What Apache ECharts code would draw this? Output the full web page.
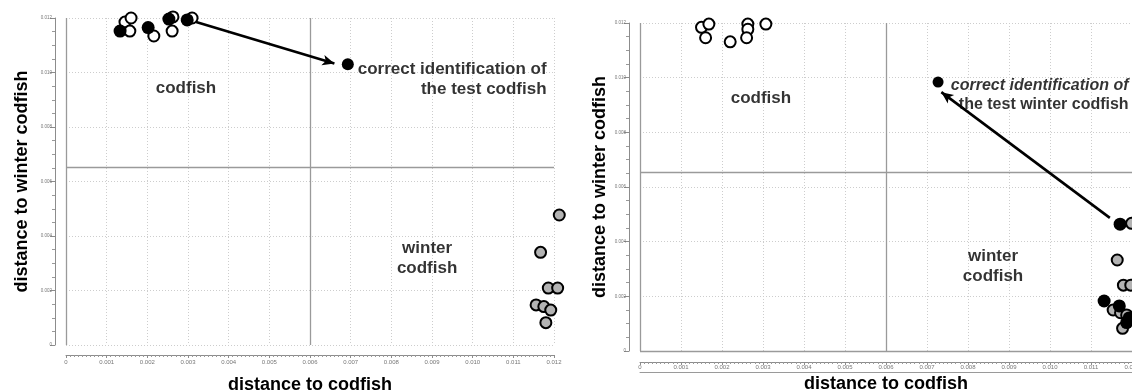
<!DOCTYPE html>
<html><head><meta charset="utf-8">
<script src="https://cdn.jsdelivr.net/npm/echarts@6/dist/echarts.min.js"></script>
<style>html,body{margin:0;padding:0;background:#fff}#c{width:1132px;height:392px}</style>
</head><body><div id="c"></div>
<script>
const xTitle = 'distance to codfish';
const yTitle = 'distance to winter codfish';
const axisMin = 0, axisMax = 0.012;
const dividerX = 0.006, dividerY = 0.00654;

// left panel: identification of a test codfish
const leftOpen = [[0.00145,0.01185],[0.00160,0.01200],[0.00157,0.01152],[0.00216,0.01134],[0.00263,0.01204],[0.00261,0.01152],[0.00310,0.01200]];
const leftBlack = [[0.00133,0.01152],[0.00202,0.01165],[0.00253,0.01196],[0.00298,0.01193]];
const leftGray = [[0.01213,0.00477],[0.01167,0.00340],[0.01186,0.00209],[0.01209,0.00209],[0.01156,0.00147],[0.01175,0.00141],[0.01192,0.00128],[0.01180,0.00082]];
const leftTest = [[0.00693,0.01030]];
const leftArrow = [[0.00320,0.01185],[0.00660,0.01033]];

// right panel: identification of a test winter codfish
const rightOpen = [[0.00150,0.01184],[0.00168,0.01196],[0.00160,0.01146],[0.00220,0.01131],[0.00263,0.01196],[0.00263,0.01177],[0.00260,0.01146],[0.00307,0.01196]];
const rightGray = [[0.01199,0.00467],[0.01164,0.00333],[0.01179,0.00241],[0.01197,0.00241],[0.01154,0.00150],[0.01172,0.00140],[0.01187,0.00132],[0.01177,0.00083]];
const rightBlack = [[0.01171,0.00464],[0.01132,0.00183],[0.01169,0.00165],[0.01187,0.00104],[0.01193,0.00121]];
const rightTest = [[0.00727,0.00984]];
const rightArrow = [[0.01146,0.00487],[0.00735,0.00947]];

// region / annotation labels
const leftLabels = [
  {name:'codfish', value:[0.00295,0.00943], pos:'inside', size:17},
  {name:'winter\ncodfish', value:[0.00888,0.00319], pos:'inside', size:17},
  {name:'correct identification of\nthe test codfish', value:[0.01183,0.00976], pos:'left', size:17}
];
const rightLabels = [
  {name:'codfish', value:[0.00295,0.00926], pos:'inside', size:17},
  {name:'winter\ncodfish', value:[0.00861,0.00311], pos:'inside', size:17},
  {name:'{i|correct identification of}\n{n|the test winter codfish}', value:[0.01193,0.00935], pos:'left', size:16}
];

const FONT = 'Liberation Sans';
const AX = '#8c8c8c';
const titleStyle = {fontFamily:FONT, fontWeight:'bold', fontSize:18, color:'#000'};

function xAxisOf(gi, off, gap, lm) {
  return {type:'value', gridIndex:gi, position:'bottom', min:axisMin, max:axisMax, interval:0.001, offset:off,
    axisLine:{show:true, onZero:false, lineStyle:{color:AX, width:1}},
    axisTick:{show:true, length:3, lineStyle:{color:AX}},
    minorTick:{show:true, splitNumber:10, length:2, lineStyle:{color:'#999'}},
    axisLabel:{fontSize:6, color:'#777', margin:lm, fontFamily:FONT, formatter:v => v===0?'0':v.toFixed(3)},
    splitLine:{show:true, lineStyle:{color:'#cdcdcd', type:[1,2], width:1}},
    name:xTitle, nameLocation:'middle', nameGap:gap, nameTextStyle:titleStyle};
}
function yAxisOf(gi, off, gap) {
  return {type:'value', gridIndex:gi, position:'left', min:axisMin, max:axisMax, interval:0.002, offset:off,
    axisLine:{show:true, onZero:false, lineStyle:{color:AX, width:1}},
    axisTick:{show:true, length:5, lineStyle:{color:AX}},
    minorTick:{show:true, splitNumber:4, length:3, lineStyle:{color:'#999'}},
    axisLabel:{fontSize:4.5, color:'#777', margin:3, fontFamily:FONT, formatter:v => v===0?'0':v.toFixed(3)},
    splitLine:{show:true, lineStyle:{color:'#cdcdcd', type:[1,2], width:1}},
    name:yTitle, nameLocation:'middle', nameGap:gap, nameTextStyle:titleStyle};
}

function pts(gi, data, fill, size, z) {
  return {type:'scatter', xAxisIndex:gi, yAxisIndex:gi, data:data, symbol:'circle', symbolSize:size,
    clip:false, z:z, itemStyle:{color:fill, borderColor:'#000', borderWidth: fill==='#000'?0:2, opacity:1}};
}
function dividers(gi, extra) {
  const d = [{xAxis:dividerX},{yAxis:dividerY},{xAxis:axisMin}].concat(extra);
  return {type:'scatter', xAxisIndex:gi, yAxisIndex:gi, data:[], z:1,
    markLine:{silent:true, symbol:'none', precision:8, animation:false, label:{show:false},
      lineStyle:{color:'#9a9a9a', type:'solid', width:1.3}, data:d}};
}
function arrow(gi, a) {
  return {type:'scatter', xAxisIndex:gi, yAxisIndex:gi, data:[], z:6,
    markLine:{silent:true, symbol:['none','arrow'], symbolSize:[8,12], precision:8, animation:false, label:{show:false},
      lineStyle:{color:'#000', type:'solid', width:2.6},
      data:[[{coord:a[0]},{coord:a[1]}]]}};
}
function labels(gi, arr) {
  return {type:'scatter', xAxisIndex:gi, yAxisIndex:gi, symbolSize:1, clip:false, z:7,
    itemStyle:{color:'rgba(0,0,0,0)'},
    data:arr.map(o => ({name:o.name, value:o.value,
      label:{show:true, position:o.pos, distance:0, formatter:'{b}',
        fontFamily:FONT, fontWeight:'bold', fontSize:o.size, lineHeight:20, color:'#000',
        align: o.pos==='left'?'right':'center',
        rich:{i:{fontFamily:FONT, fontWeight:'bold', fontStyle:'italic', fontSize:o.size, lineHeight:19, color:'#000', align:'right'},
              n:{fontFamily:FONT, fontWeight:'bold', fontSize:o.size, lineHeight:19, color:'#000', align:'right'}}}}))};
}

const chart = echarts.init(document.getElementById('c'), null, {renderer:'canvas'});
chart.setOption({
  animation:false,
  backgroundColor:'#fff',
  grid:[
    {left:66, top:18, width:488, height:327, outerBoundsMode:'none', containLabel:false},
    {left:640, top:23, width:492, height:328, outerBoundsMode:'none', containLabel:false}
  ],
  xAxis:[
    xAxisOf(0, 10, 21, 4),
    xAxisOf(1, 11, 12, 2),
    {type:'value', gridIndex:1, position:'bottom', min:axisMin, max:axisMax, offset:21,
      axisLine:{show:true, onZero:false, lineStyle:{color:'#9a9a9a'}},
      axisTick:{show:false}, axisLabel:{show:false}, splitLine:{show:false}}
  ],
  yAxis:[
    yAxisOf(0, 11, 24),
    yAxisOf(1, 11, 20)
  ],
  series:[
    dividers(0, []),
    dividers(1, [{yAxis:axisMin}]),
    pts(0, leftOpen, '#fff', 11, 3),
    pts(0, leftBlack, '#000', 13, 4),
    pts(0, leftGray, '#b3b3b3', 11, 3),
    pts(0, leftTest, '#000', 12, 4),
    arrow(0, leftArrow),
    labels(0, leftLabels),
    pts(1, rightOpen, '#fff', 11, 3),
    pts(1, rightGray, '#b3b3b3', 11, 3),
    pts(1, rightBlack, '#000', 13, 4),
    pts(1, rightTest, '#000', 11, 4),
    arrow(1, rightArrow),
    labels(1, rightLabels)
  ]
});
</script></body></html>
